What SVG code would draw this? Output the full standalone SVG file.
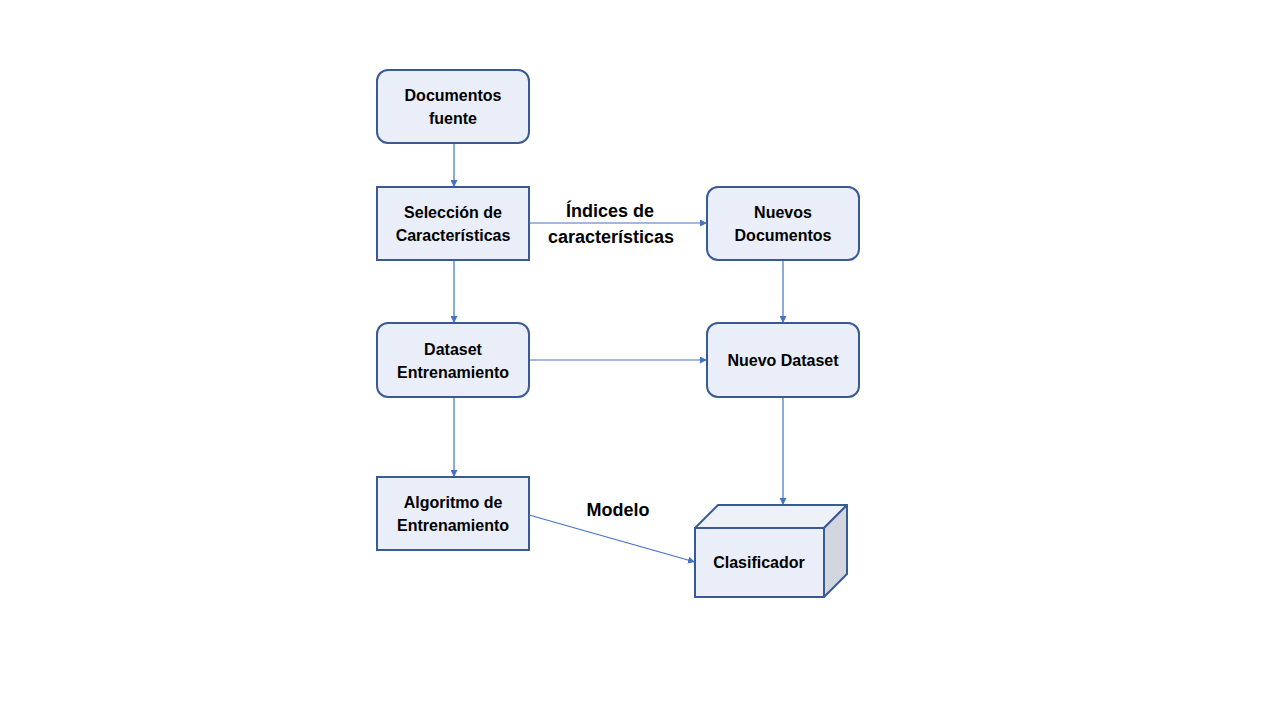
<svg xmlns="http://www.w3.org/2000/svg" width="1280" height="720" viewBox="0 0 1280 720">
<defs>
<style>
.box{fill:#E9EEF8;stroke:#3A5A94;stroke-width:2}
.t{font-family:"Liberation Sans",Arial,sans-serif;font-weight:bold;font-size:16px;fill:#000;text-anchor:middle}
.lbl{font-family:"Liberation Sans",Arial,sans-serif;font-weight:bold;font-size:18px;fill:#000;text-anchor:middle}
.c{stroke:#4472C4;stroke-width:1.2;fill:none;marker-end:url(#ah)}
</style>
<marker id="ah" viewBox="0 0 10 10" refX="10" refY="5" markerWidth="7" markerHeight="7" markerUnits="userSpaceOnUse" orient="auto">
<path d="M0,0 L10,5 L0,10 z" fill="#4472C4"/>
</marker>
</defs>
<rect width="1280" height="720" fill="#fff"/>
<g id="connectors">
<line class="c" x1="454" y1="143" x2="454" y2="187"/>
<line class="c" x1="454" y1="260" x2="454" y2="323"/>
<line class="c" x1="454" y1="397" x2="454" y2="477"/>
<line class="c" x1="529" y1="223" x2="707" y2="223"/>
<line class="c" x1="529" y1="360" x2="707" y2="360"/>
<line class="c" x1="783" y1="260" x2="783" y2="323"/>
<line class="c" x1="783" y1="397" x2="783" y2="505"/>
<line class="c" x1="529" y1="515" x2="695" y2="562"/>
<text class="lbl" x="610" y="217">Índices de</text>
<text class="lbl" x="611" y="243">características</text>
<text class="lbl" x="618" y="516">Modelo</text>
</g>
<g id="documentos-fuente">
<rect class="box" x="377" y="70" width="152" height="73" rx="11"/>
<text class="t" x="453" y="101">Documentos</text>
<text class="t" x="453" y="124">fuente</text>
</g>
<g id="seleccion">
<rect class="box" x="377" y="187" width="152" height="73"/>
<text class="t" x="453" y="218">Selección de</text>
<text class="t" x="453" y="241">Características</text>
</g>
<g id="dataset-entrenamiento">
<rect class="box" x="377" y="323" width="152" height="74" rx="11"/>
<text class="t" x="453" y="355">Dataset</text>
<text class="t" x="453" y="378">Entrenamiento</text>
</g>
<g id="algoritmo">
<rect class="box" x="377" y="477" width="152" height="73"/>
<text class="t" x="453" y="508">Algoritmo de</text>
<text class="t" x="453" y="531">Entrenamiento</text>
</g>
<g id="nuevos-documentos">
<rect class="box" x="707" y="187" width="152" height="73" rx="11"/>
<text class="t" x="783" y="218">Nuevos</text>
<text class="t" x="783" y="241">Documentos</text>
</g>
<g id="nuevo-dataset">
<rect class="box" x="707" y="323" width="152" height="74" rx="11"/>
<text class="t" x="783" y="366">Nuevo Dataset</text>
</g>
<g id="clasificador">
<path d="M695,528 L718,505 L847,505 L824,528 Z" fill="#EEF1F8" stroke="#3A5A94" stroke-width="2" stroke-linejoin="round"/>
<path d="M824,528 L847,505 L847,574 L824,597 Z" fill="#D2D6DE" stroke="#3A5A94" stroke-width="2" stroke-linejoin="round"/>
<rect class="box" x="695" y="528" width="129" height="69"/>
<text class="t" x="759" y="568">Clasificador</text>
</g>
</svg>
